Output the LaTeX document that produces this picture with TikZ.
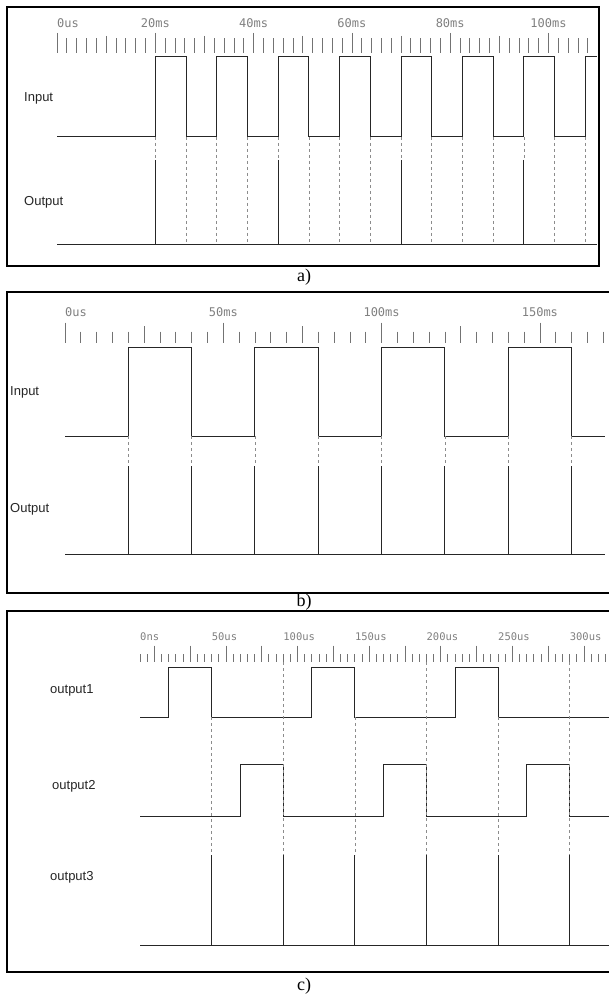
\documentclass[tikz,border=0pt]{standalone}
\usepackage{fontspec}
\setmainfont{Liberation Sans}
\newfontfamily\capfont{Liberation Serif}
\newfontfamily\tickfont{DejaVu Sans Mono}
\begin{document}
\begin{tikzpicture}[x=1pt,y=-1pt,
  frame/.style={draw=black, line width=1.2pt},
  sig/.style={draw=black!85, line width=1pt, line join=miter},
  tk/.style={draw=black!55, line width=0.8pt},
  dsh/.style={draw=black!45, line width=0.6pt, dash pattern=on 3pt off 3pt},
  lbl/.style={font=\fontsize{13}{15}\selectfont, anchor=west, inner sep=0pt, text=black!85},
  tl/.style={font=\tickfont\fontsize{12}{14}\selectfont, text=black!50, inner sep=0pt},
  tlc/.style={font=\tickfont\fontsize{10.5}{12}\selectfont, text=black!50, inner sep=0pt, anchor=west},
  capt/.style={font=\capfont\fontsize{18}{20}\selectfont, inner sep=0pt}]
\useasboundingbox (0,0) rectangle (608,1000);
\fill[white] (0,0) rectangle (608,1000);

%% ---------------- panel a ----------------
\draw[frame] (7,7) rectangle (599,266);
\foreach \t in {0,2,...,108}{
  \pgfmathsetmacro\h{ifthenelse(mod(\t,20)==0,33,ifthenelse(mod(\t,10)==0,36,38.5))}
  \draw[tk] ({57+4.915*\t},\h) -- ({57+4.915*\t},52.7);
}
\node[tl,anchor=west] (a0) at (57,23) {0us};
\foreach \t in {20,40,60,80,100}{
  \node[tl] (a\t) at ({57+4.915*\t},23) {\t ms};
}
\draw[sig] (57,137) foreach \k in {0,...,6}{
  -- ({57+4.915*(20+12.5*\k)},137) -- ({57+4.915*(20+12.5*\k)},57)
  -- ({57+4.915*(26.25+12.5*\k)},57) -- ({57+4.915*(26.25+12.5*\k)},137)}
  -- ({57+4.915*107.5},137) -- ({57+4.915*107.5},57) -- (597,57);
\foreach \j in {0,...,14}{
  \pgfmathsetmacro\e{ifthenelse(mod(\j,4)==0,160,244)}
  \draw[dsh] ({57+4.915*(20+6.25*\j)},137) -- ({57+4.915*(20+6.25*\j)},\e);
}
\foreach \t in {20,45,70,95}{
  \draw[sig] ({57+4.915*\t},160) -- ({57+4.915*\t},244);
}
\draw[sig] (57,244) -- (597,244);
\node[lbl] (ain) at (24,98) {Input};
\node[lbl] (aout) at (24,202) {Output};
\node[capt] (capa) at (304,277) {a)};

%% ---------------- panel b ----------------
\draw[frame] (612,292) -- (7,292) -- (7,593) -- (612,593);
\foreach \t in {0,5,...,170}{
  \pgfmathsetmacro\h{ifthenelse(mod(\t,50)==0,322.7,ifthenelse(mod(\t,25)==0,326,331.7))}
  \draw[tk] ({65+3.166*\t},\h) -- ({65+3.166*\t},342.7);
}
\node[tl,anchor=west] (b0) at (65,312) {0us};
\foreach \t in {50,100,150}{
  \node[tl] (b\t) at ({65+3.166*\t},312) {\t ms};
}
\draw[sig] (65,436) foreach \k in {0,...,3}{
  -- ({65+3.166*(20+40*\k)},436) -- ({65+3.166*(20+40*\k)},347)
  -- ({65+3.166*(40+40*\k)},347) -- ({65+3.166*(40+40*\k)},436)} -- (605,436);
\foreach \j in {0,...,7}{
  \draw[dsh] ({65+3.166*(20+20*\j)},436) -- ({65+3.166*(20+20*\j)},466);
  \draw[sig] ({65+3.166*(20+20*\j)},466) -- ({65+3.166*(20+20*\j)},554);
}
\draw[sig] (65,554) -- (605,554);
\node[lbl] (bin) at (10,392) {Input};
\node[lbl] (bout) at (10,509) {Output};
\node[capt] (capb) at (304,602) {b)};

%% ---------------- panel c ----------------
\draw[frame] (612,611) -- (7,611) -- (7,972) -- (612,972);
\foreach \t in {0,5,...,325}{
  \pgfmathsetmacro\h{ifthenelse(mod(\t+15,25)==0,645.5,654)}
  \draw[tk] ({140+1.432*\t},\h) -- ({140+1.432*\t},662);
}
\foreach \t/\s in {0/0ns,50/50us,100/100us,150/150us,200/200us,250/250us,300/300us}{
  \node[tlc] (c\t) at ({140+1.432*\t},637) {\s};
}
\draw[sig] (140,717) foreach \k in {0,1,2}{
  -- ({140+1.432*(20+100*\k)},717) -- ({140+1.432*(20+100*\k)},667)
  -- ({140+1.432*(50+100*\k)},667) -- ({140+1.432*(50+100*\k)},717)} -- (610,717);
\draw[sig] (140,816) foreach \k in {0,1,2}{
  -- ({140+1.432*(70+100*\k)},816) -- ({140+1.432*(70+100*\k)},764)
  -- ({140+1.432*(100+100*\k)},764) -- ({140+1.432*(100+100*\k)},816)} -- (610,816);
\foreach \t in {50,150,250}{
  \draw[dsh] ({140+1.432*\t},717) -- ({140+1.432*\t},855);
}
\foreach \t in {100,200,300}{
  \draw[dsh] ({140+1.432*\t},662) -- ({140+1.432*\t},855);
}
\foreach \t in {50,100,...,300}{
  \draw[sig] ({140+1.432*\t},855) -- ({140+1.432*\t},945);
}
\draw[sig] (140,945) -- (610,945);
\node[lbl] (c1) at (50,690) {output1};
\node[lbl] (c2) at (52,786) {output2};
\node[lbl] (c3) at (50,877) {output3};
\node[capt] (capc) at (304,986) {c)};
\end{tikzpicture}
\end{document}
